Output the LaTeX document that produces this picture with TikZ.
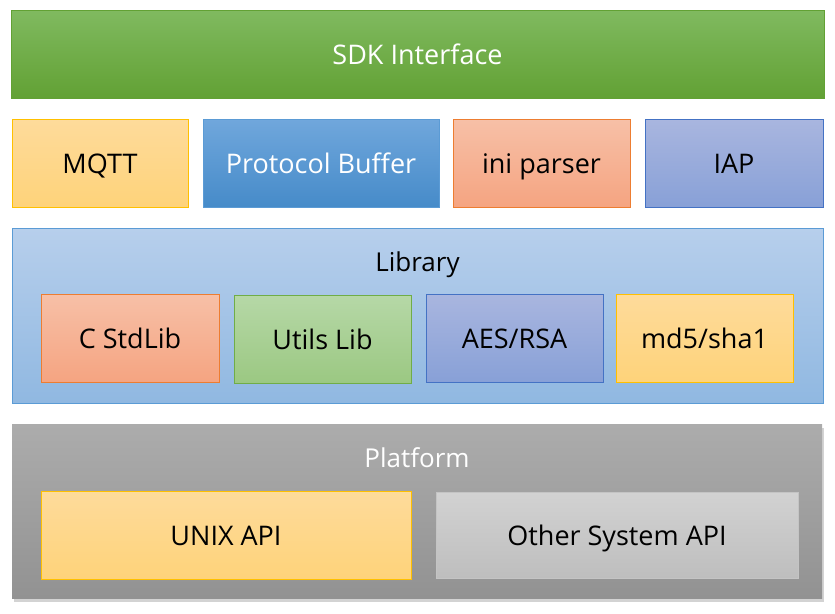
\documentclass[tikz,border=0pt]{standalone}
\usepackage{fontspec}
\setmainfont{Open Sans}
\usetikzlibrary{shadows}

\definecolor{greenTop}{RGB}{128,186,96}
\definecolor{greenBot}{RGB}{98,161,52}
\definecolor{yellowTop}{RGB}{254,219,155}
\definecolor{yellowBot}{RGB}{254,211,122}
\definecolor{yellowLine}{RGB}{255,192,0}
\definecolor{blueTop}{RGB}{112,167,220}
\definecolor{blueBot}{RGB}{70,139,201}
\definecolor{blueLine}{RGB}{91,155,213}
\definecolor{orangeTop}{RGB}{247,192,167}
\definecolor{orangeBot}{RGB}{245,164,129}
\definecolor{orangeLine}{RGB}{237,125,49}
\definecolor{violetTop}{RGB}{169,182,223}
\definecolor{violetBot}{RGB}{136,160,215}
\definecolor{violetLine}{RGB}{68,114,196}
\definecolor{skyTop}{RGB}{183,207,236}
\definecolor{skyBot}{RGB}{144,184,225}
\definecolor{leafTop}{RGB}{182,216,167}
\definecolor{leafBot}{RGB}{155,200,130}
\definecolor{leafLine}{RGB}{112,173,71}
\definecolor{greyTop}{RGB}{172,172,172}
\definecolor{greyBot}{RGB}{146,146,146}
\definecolor{silverTop}{RGB}{210,210,210}
\definecolor{silverBot}{RGB}{190,190,190}
\definecolor{silverLine}{RGB}{196,196,196}

\begin{document}
\begin{tikzpicture}
    [x=1pt,y=-1pt,
     box/.style={minimum height=88pt,inner sep=0pt,line width=1pt,text height=20pt,text depth=0pt,
                 font=\fontsize{27}{30}\selectfont},
     layer/.style={inner sep=0pt,line width=1pt},
     title/.style={text height=19pt,text depth=0pt,font=\fontsize{26}{30}\selectfont}]
    \useasboundingbox (0,0) rectangle (835,613);
    % top layer
    \node [box,minimum width=813pt,text=white,draw=greenBot,top color=greenTop,bottom color=greenBot] (sdk) at (417.5,54) {SDK Interface};
    \node [box,minimum width=176pt,draw=yellowLine,top color=yellowTop,bottom color=yellowBot] (mqtt) at (100,163) {MQTT};
    \node [box,minimum width=236pt,text=white,draw=blueLine,top color=blueTop,bottom color=blueBot] (pb) at (321,163) {Protocol Buffer};
    \node [box,minimum width=177pt,draw=orangeLine,top color=orangeTop,bottom color=orangeBot] (ini) at (541.5,163) {ini parser};
    \node [box,minimum width=178pt,draw=violetLine,top color=violetTop,bottom color=violetBot] (iap) at (734,163) {IAP};
    % library layer
    \node [layer,minimum width=811pt,minimum height=175pt,draw=blueLine,top color=skyTop,bottom color=skyBot] (lib) at (417.5,315.5) {};
    \node [title] (libtxt) at (417.5,262) {Library};
    \node [box,minimum width=178pt,draw=orangeLine,top color=orangeTop,bottom color=orangeBot] (cstd) at (130,338) {C StdLib};
    \node [box,minimum width=177pt,draw=leafLine,top color=leafTop,bottom color=leafBot] (utils) at (322.5,339) {Utils Lib};
    \node [box,minimum width=177pt,draw=violetLine,top color=violetTop,bottom color=violetBot] (aes) at (514.5,338) {AES/RSA};
    \node [box,minimum width=177pt,draw=yellowLine,top color=yellowTop,bottom color=yellowBot] (md5) at (704.5,338) {md5/sha1};
    % platform layer
    \node [layer,minimum width=810pt,minimum height=174pt,top color=greyTop,bottom color=greyBot,
           drop shadow={shadow xshift=2pt,shadow yshift=-4pt,opacity=0.35}] (plat) at (417,511) {};
    \node [title,text=white] (plattxt) at (417,458) {Platform};
    \node [box,minimum width=370pt,draw=yellowLine,top color=yellowTop,bottom color=yellowBot] (unix) at (226,535) {UNIX API};
    \node [box,minimum width=362pt,minimum height=86pt,draw=silverLine,top color=silverTop,bottom color=silverBot] (other) at (617,535) {Other System API};
\end{tikzpicture}
\end{document}
